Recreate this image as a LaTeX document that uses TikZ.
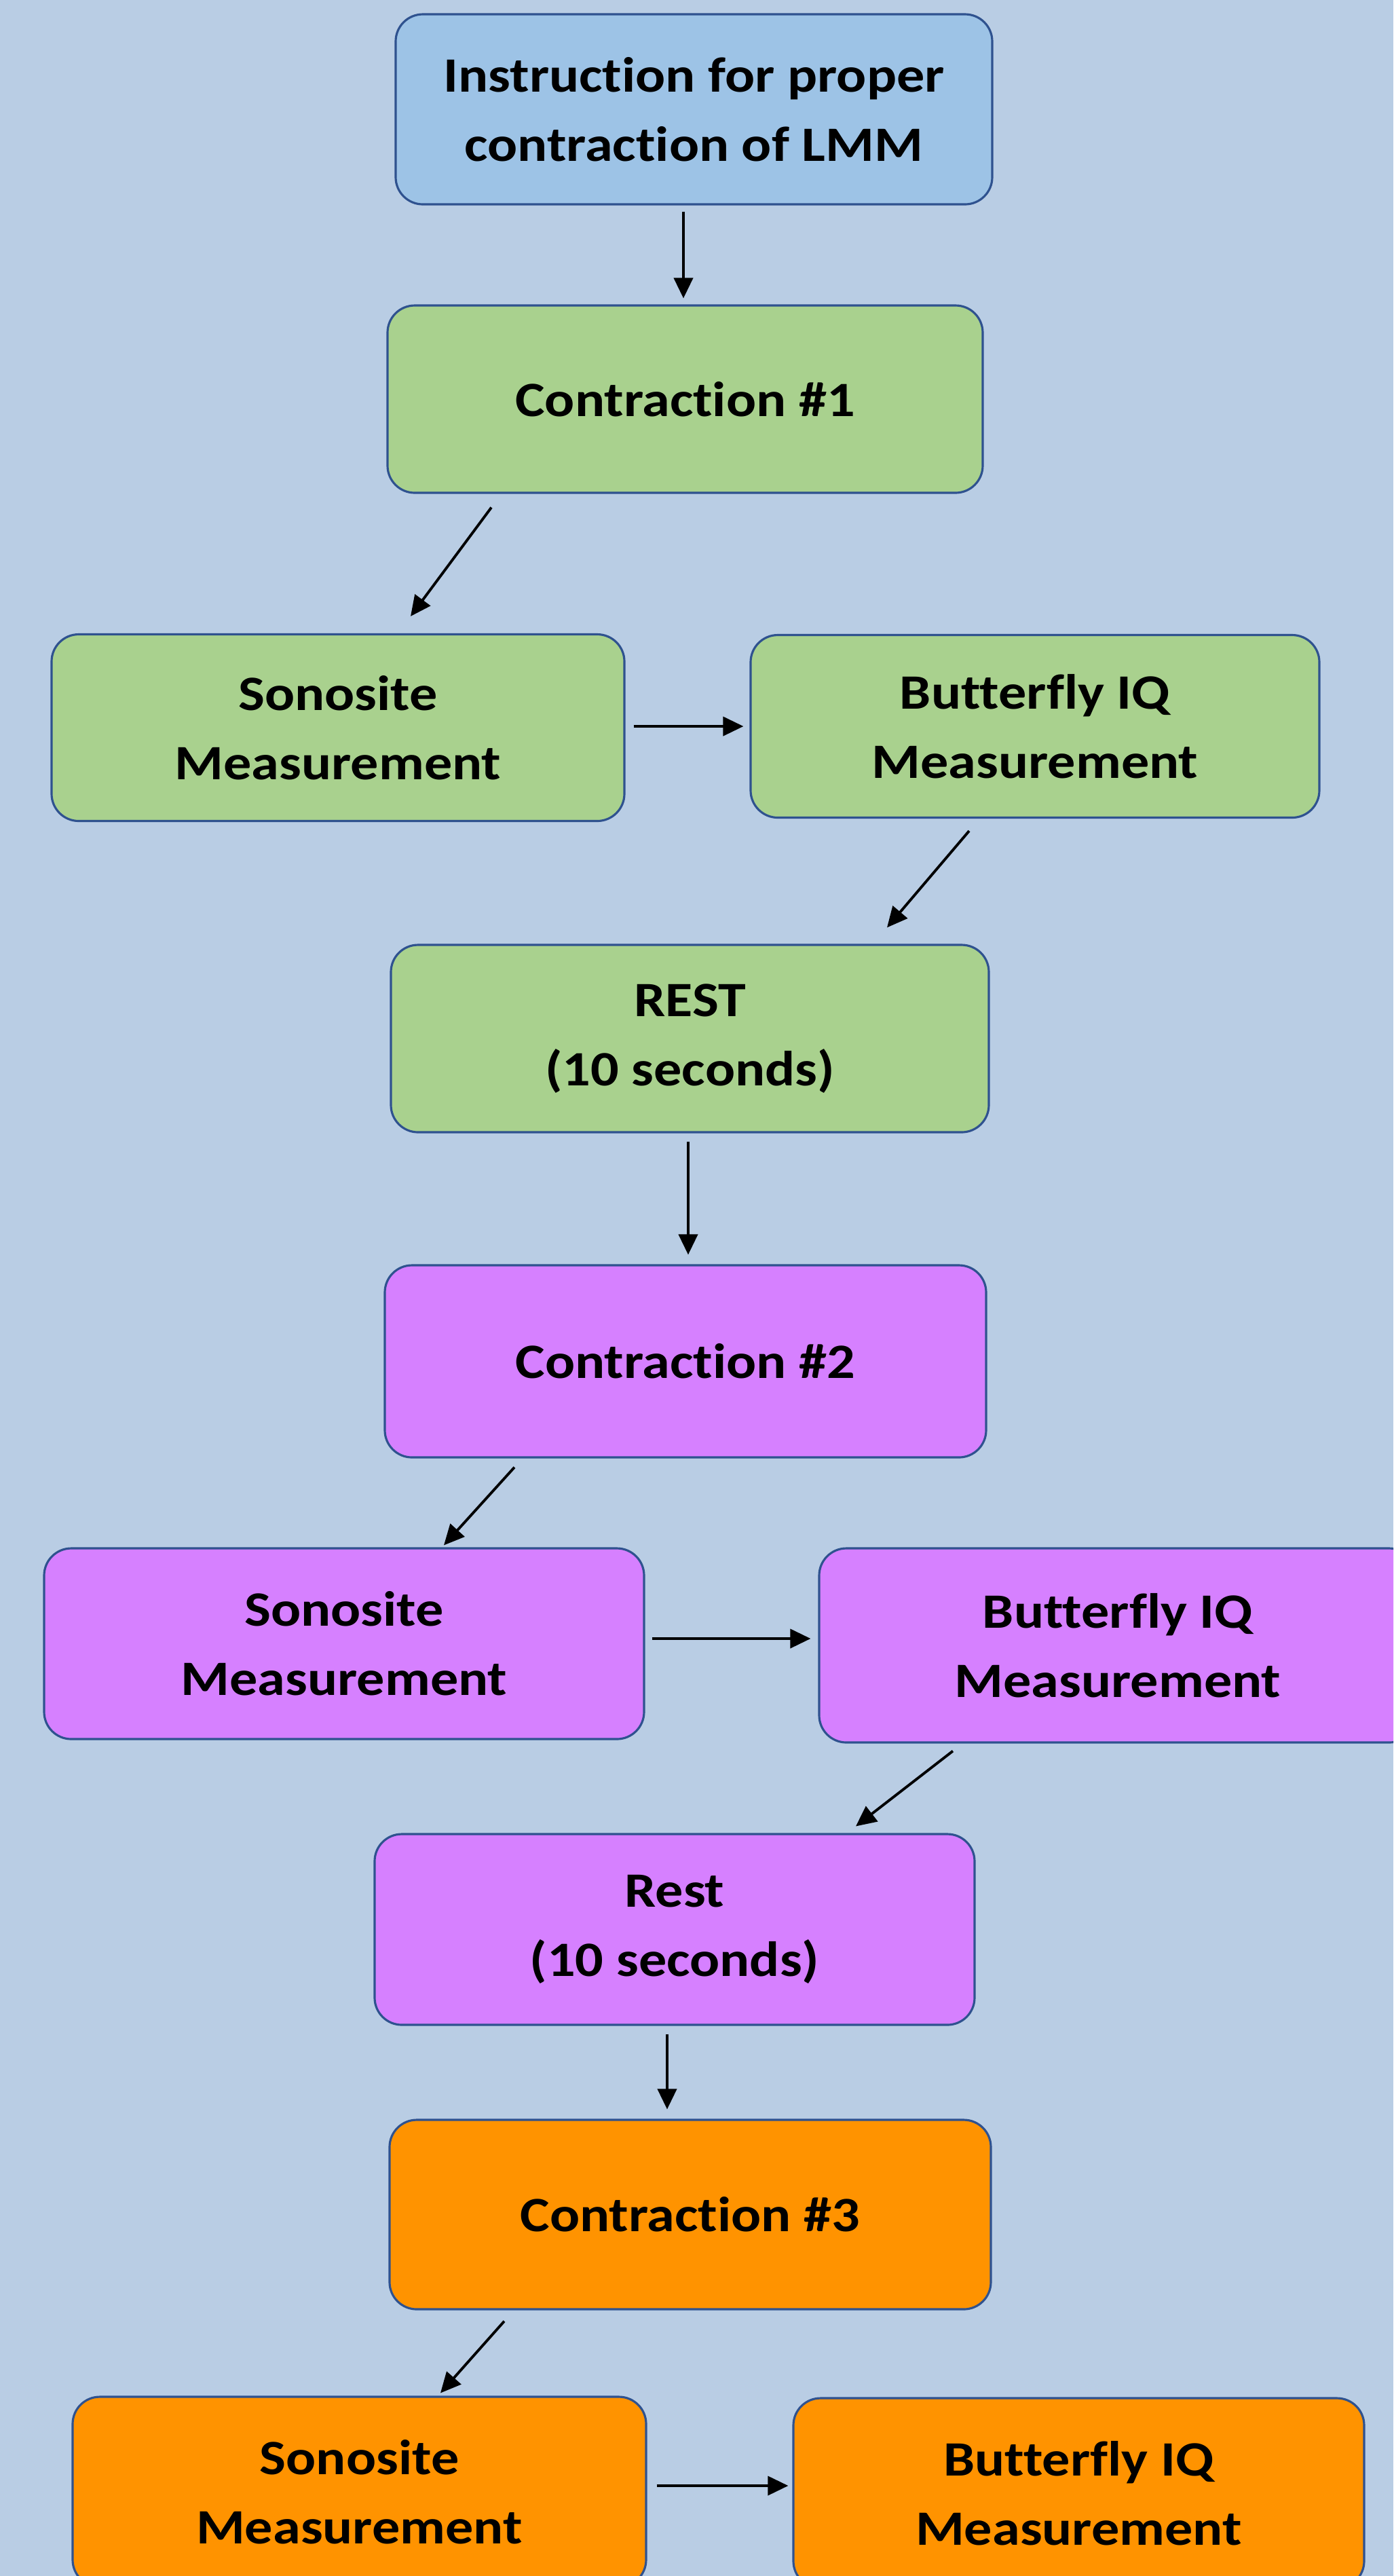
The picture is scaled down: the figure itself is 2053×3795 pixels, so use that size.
\documentclass[tikz,border=0pt]{standalone}
\usepackage{fontspec}
\setmainfont{Carlito}[FakeStretch=1.13,Ligatures=NoCommon]
\usetikzlibrary{arrows.meta,calc}
\definecolor{bgblue}{RGB}{185,205,228}
\definecolor{edgeblue}{RGB}{47,82,143}
\definecolor{instblue}{RGB}{157,195,230}
\definecolor{stepgreen}{RGB}{169,209,142}
\definecolor{steppurple}{RGB}{214,128,255}
\definecolor{steporange}{RGB}{255,147,0}
\begin{document}
\begin{tikzpicture}[x=0.01cm,y=-0.01cm,
  box/.style={draw=edgeblue,line width=0.9pt,rounded corners=0.4cm,align=center,
    font=\bfseries\fontsize{20.7}{29}\selectfont,inner sep=0pt},
  arr/.style={-{Triangle[length=3mm,width=2.8mm]},line width=1.1pt}]
\fill[bgblue] (0,0) rectangle (2053,3795);
\useasboundingbox (0,0) rectangle (2053,3795);
\clip (0,0) rectangle (2053,3795);
% first round
\node[box,fill=instblue,minimum width=879*0.01cm,minimum height=280*0.01cm] (inst) at (1022.5,161) {Instruction for proper\\contraction of LMM};
\node[box,fill=stepgreen,minimum width=877*0.01cm,minimum height=276*0.01cm] (c1) at (1009.5,588) {Contraction \#1};
\node[box,fill=stepgreen,minimum width=844*0.01cm,minimum height=275*0.01cm] (s1) at (498,1072) {Sonosite\\Measurement};
\node[box,fill=stepgreen,minimum width=838*0.01cm,minimum height=269*0.01cm] (b1) at (1525,1070) {Butterfly IQ\\Measurement};
\node[box,fill=stepgreen,minimum width=881*0.01cm,minimum height=276*0.01cm] (rest1) at (1016.5,1530) {REST\\(10 seconds)};
% second round
\node[box,fill=steppurple,minimum width=886*0.01cm,minimum height=283*0.01cm] (c2) at (1010,2005.5) {Contraction \#2};
\node[box,fill=steppurple,minimum width=884*0.01cm,minimum height=281*0.01cm] (s2) at (507,2421.5) {Sonosite\\Measurement};
\node[box,fill=steppurple,minimum width=880*0.01cm,minimum height=286*0.01cm] (b2) at (1647,2424) {Butterfly IQ\\Measurement};
\node[box,fill=steppurple,minimum width=884*0.01cm,minimum height=281*0.01cm] (rest2) at (994,2842.5) {Rest\\(10 seconds)};
% third round
\node[box,fill=steporange,minimum width=886*0.01cm,minimum height=279*0.01cm] (c3) at (1017,3262.5) {Contraction \#3};
\node[box,fill=steporange,minimum width=845*0.01cm,minimum height=280*0.01cm] (s3) at (529.5,3671) {Sonosite\\Measurement};
\node[box,fill=steporange,minimum width=841*0.01cm,minimum height=280*0.01cm] (b3) at (1589.5,3673) {Butterfly IQ\\Measurement};
% arrows
\draw[arr] ($(inst.south)+(-15.5,9)$) -- ($(c1.north)+(-2.5,-9)$);
\draw[arr] ($(c1.south)+(-285.5,20)$) -- ($(s1.north)+(107,-25)$);
\draw[arr] ($(s1.east)+(12,-2)$) -- ($(b1.west)+(-9,0)$);
\draw[arr] ($(b1.south)+(-97,18)$) -- ($(rest1.north)+(290.5,-24)$);
\draw[arr] ($(rest1.south)+(-2.5,12)$) -- ($(c2.north)+(4,-14)$);
\draw[arr] ($(c2.south)+(-252,13)$) -- ($(s2.north)+(147,-3)$);
\draw[arr] ($(s2.east)+(10,-7.5)$) -- ($(b2.west)+(-11,-10)$);
\draw[arr] ($(b2.south)+(-243,11)$) -- ($(rest2.north)+(267,-10)$);
\draw[arr] ($(rest2.south)+(-11,12)$) -- ($(c3.north)+(-34,-14)$);
\draw[arr] ($(c3.south)+(-274,16)$) -- ($(s3.north)+(119.5,-4)$);
\draw[arr] ($(s3.east)+(14,-9)$) -- ($(b3.west)+(-6,-11)$);
\end{tikzpicture}
\end{document}
